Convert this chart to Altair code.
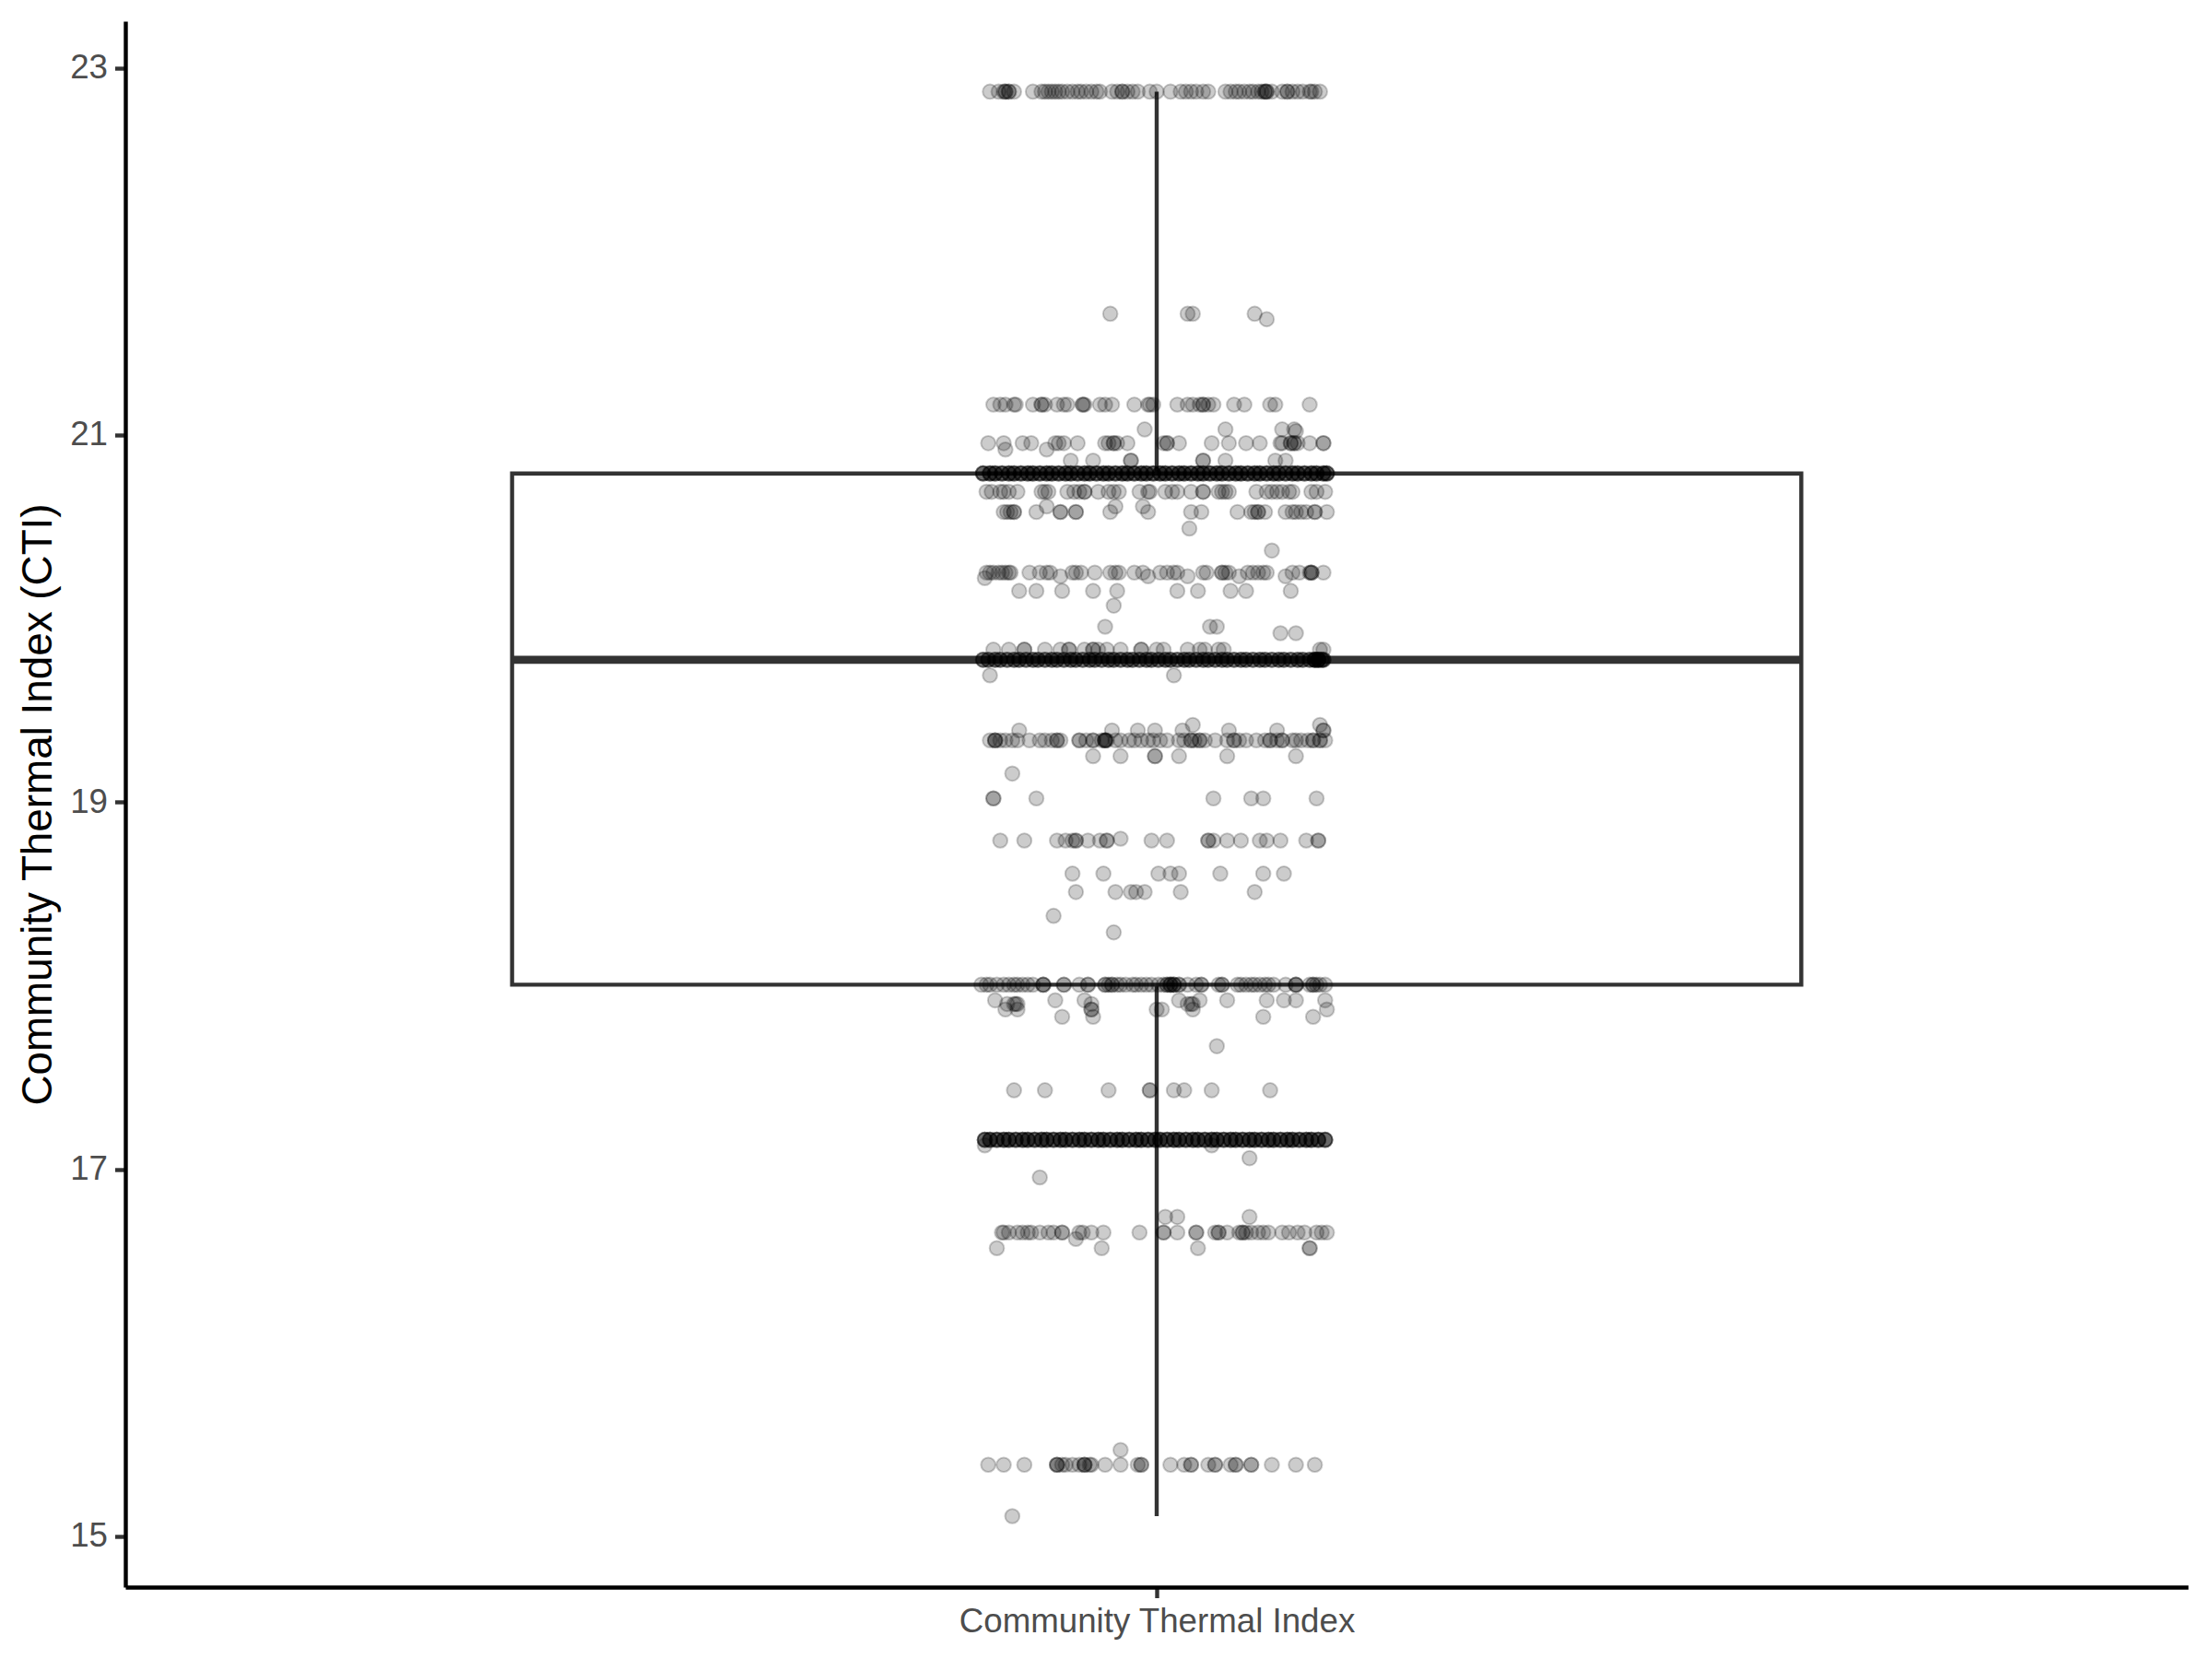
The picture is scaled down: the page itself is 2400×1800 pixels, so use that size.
import altair as alt
import pandas as pd

CATEGORY = "Community Thermal Index"
Y_TITLE = "Community Thermal Index (CTI)"
Y_TICKS = [15, 17, 19, 21, 23]

# Box-plot statistics
BOX_LOWER = 15.11
BOX_Q1 = 18.005
BOX_MEDIAN = 19.775
BOX_Q3 = 20.79
BOX_UPPER = 22.87
BOX_WIDTH = 0.75
JITTER_WIDTH = 0.1

# CTI values of the point rows, with each point's jitter (percent of jitter width)
ROW_CTI = [22.87, 21.66, 21.63, 21.165, 21.03, 21.02, 20.955, 20.92, 20.86, 20.69,
           20.61, 20.58, 20.49, 20.37, 20.25, 20.23, 20.22, 20.15, 20.07, 19.955,
           19.92, 19.83, 19.69, 19.42, 19.39, 19.336, 19.25, 19.155, 19.02, 18.80,
           18.79, 18.61, 18.51, 18.38, 18.29, 18.005, 17.92, 17.90, 17.87, 17.83,
           17.67, 17.43, 17.13, 17.06, 16.955, 16.74, 16.655, 16.62, 16.57, 15.47,
           15.39, 15.11]
ROW_JITTER = [
    [-97, -92, -89, -88, -88, -86, -86, -83, -72, -67, -65, -63, -61, -59, -57, -55, -52, -49, -46, -44,
     -41, -38, -35, -33, -26, -23, -20, -20, -17, -14, -11, -4, 0, 8, 14, 17, 20, 23, 27, 30, 40, 43, 46,
     48, 51, 54, 56, 59, 61, 63, 63, 64, 64, 67, 73, 76, 76, 79, 82, 85, 89, 90, 92, 95],
    [-27, 18, 21, 57],
    [64],
    [-95, -91, -88, -83, -82, -72, -67, -67, -65, -58, -54, -52, -43, -43, -42, -33, -30, -26, -13, -5,
     -4, -2, 12, 18, 21, 25, 27, 27, 30, 33, 45, 51, 66, 69, 89],
    [-7, 40, 73, 80],
    [81],
    [-98, -89, -78, -73, -59, -57, -54, -46, -30, -28, -25, -25, -23, -17, 4, 6, 6, 13, 32, 42, 52, 60,
     72, 73, 78, 78, 80, 80, 82, 89, 97, 97],
    [-88, -64],
    [-50, -37, -15, -15, 27, 27, 40, 69, 75],
    [-99, -96, -91, -89, -86, -81, -67, -65, -63, -52, -48, -45, -42, -42, -34, -28, -25, -22, -10, -5,
     -4, 5, 9, 12, 20, 27, 27, 36, 38, 40, 42, 58, 64, 67, 70, 73, 77, 79, 90, 93, 98],
    [-64, -24, -8],
    [-89, -87, -85, -83, -83, -70, -56, -56, -47, -47, -27, -5, 20, 26, 47, 55, 57, 59, 59, 63, 75, 79,
     81, 84, 87, 92, 92, 99],
    [19],
    [67],
    [-99, -97, -95, -92, -90, -88, -86, -85, -74, -68, -64, -62, -49, -47, -44, -36, -27, -24, -22, -13,
     -8, 2, 6, 10, 12, 27, 29, 38, 38, 40, 42, 53, 56, 59, 62, 64, 79, 83, 89, 90, 90, 90, 97],
    [-56, -5, 18, 48, 75],
    [-100],
    [-80, -70, -55, -37, -23, 12, 24, 43, 52, 78],
    [-25],
    [-30, 31, 35],
    [72, 81],
    [-95, -86, -77, -77, -65, -56, -51, -51, -42, -37, -37, -34, -29, -21, -9, -9, 0, 4, 18, 25, 28, 36,
     39, 95, 97],
    [-97, 10],
    [21, 95],
    [-80, -26, -11, -1, 15, 42, 70, 97, 97],
    [-97, -94, -94, -94, -91, -88, -84, -81, -74, -68, -65, -61, -58, -58, -56, -45, -45, -41, -37, -37,
     -32, -30, -30, -30, -30, -29, -24, -21, -16, -13, -9, -5, -2, 2, 6, 13, 16, 20, 20, 22, 25, 25, 28,
     34, 41, 45, 45, 48, 52, 58, 63, 66, 66, 70, 73, 73, 79, 81, 84, 88, 91, 91, 95, 95, 98],
    [-37, -21, -1, -1, 13, 41, 81],
    [-84],
    [-95, -95, -70, 33, 55, 62, 93],
    [-21],
    [-91, -77, -58, -53, -49, -47, -47, -40, -33, -29, -29, -3, 6, 30, 30, 33, 41, 49, 60, 64, 72, 87,
     94, 94],
    [-49, -31, 1, 8, 13, 37, 62, 74],
    [-47, -24, -15, -12, -7, 14, 57],
    [-60],
    [-25],
    [-102, -99, -97, -93, -89, -86, -83, -81, -78, -75, -72, -66, -66, -66, -54, -54, -45, -40, -40,
     -30, -30, -28, -26, -26, -23, -21, -18, -14, -12, -9, -6, -3, 1, 4, 6, 6, 8, 8, 8, 10, 10, 10, 13,
     13, 18, 23, 26, 26, 36, 38, 38, 47, 49, 52, 55, 57, 60, 63, 65, 68, 75, 81, 81, 81, 89, 91, 91, 93,
     95, 98],
    [-94, -59, -42, 13, 25, 41, 64, 74, 81, 98],
    [-87, -83, -82, -81, -38, 18, 20, 21],
    [-88, -81, -38, -38, 0, 3, 21, 99],
    [-55, -37, 62, 91],
    [35],
    [-83, -65, -28, -4, -4, 10, 16, 32, 66],
    [-100, 32],
    [54],
    [-68],
    [5, 12, 54],
    [-90, -89, -86, -81, -78, -75, -73, -68, -63, -60, -55, -55, -45, -43, -38, -31, -10, 4, 4, 12, 23,
     23, 34, 36, 36, 41, 48, 50, 50, 52, 55, 59, 62, 65, 73, 77, 82, 86, 93, 96, 99],
    [-47],
    [-93, -32, 24, 89, 89],
    [-21],
    [-98, -89, -77, -58, -58, -58, -55, -53, -49, -45, -42, -42, -42, -39, -38, -30, -21, -11, -9, -9,
     8, 16, 20, 20, 30, 34, 34, 43, 46, 46, 55, 55, 67, 81, 92],
    [-84],
]

# Solid bands: positions read along the band and how many points overlap at each
DENSE_CTI = [20.79, 19.775, 17.16]
DENSE_REPEAT = [4, 3, 4]
DENSE_JITTER = [
    [-101, -97, -94, -90, -86, -83, -79, -75, -72, -68, -64, -61, -57, -53, -50, -46, -42, -39, -35,
     -31, -28, -24, -20, -17, -13, -9, -6, -2, 2, 5, 9, 13, 16, 20, 24, 27, 31, 35, 38, 42, 46, 49, 53,
     57, 60, 64, 68, 71, 75, 79, 82, 86, 90, 93, 97, 99],
    [-101, -98, -94, -91, -87, -83, -80, -76, -72, -69, -65, -61, -58, -54, -50, -47, -43, -39, -36,
     -32, -28, -25, -21, -17, -14, -10, -6, -3, 1, 5, 8, 12, 16, 19, 23, 27, 30, 34, 38, 41, 45, 49, 52,
     56, 60, 63, 67, 71, 74, 78, 82, 85, 89, 92, 92, 94, 94, 96, 97],
    [-100, -97, -93, -89, -86, -82, -78, -75, -71, -67, -64, -60, -56, -53, -49, -45, -42, -38, -34,
     -31, -27, -23, -20, -16, -12, -9, -5, -1, 2, 6, 10, 13, 17, 21, 24, 28, 32, 35, 39, 43, 46, 50, 54,
     57, 61, 65, 68, 72, 76, 79, 83, 87, 90, 94, 98],
]

records = []
for v, js in zip(ROW_CTI, ROW_JITTER):
    for j in js:
        records.append({"x": 1 + JITTER_WIDTH * j / 100.0, "cti": v})
for v, rep, js in zip(DENSE_CTI, DENSE_REPEAT, DENSE_JITTER):
    for j in js:
        for _ in range(rep):
            records.append({"x": 1 + JITTER_WIDTH * j / 100.0, "cti": v})
points = pd.DataFrame(records)

box_df = pd.DataFrame([{"x0": 1 - BOX_WIDTH / 2, "x1": 1 + BOX_WIDTH / 2, "xc": 1.0,
                        "q1": BOX_Q1, "q3": BOX_Q3, "median": BOX_MEDIAN}])
whisk_df = pd.DataFrame([{"xc": 1.0, "lo": BOX_LOWER, "hi": BOX_Q1},
                         {"xc": 1.0, "lo": BOX_Q3, "hi": BOX_UPPER}])

FONT = "Liberation Sans"
xscale = alt.Scale(domain=[0.4, 1.6], nice=False, zero=False)
yscale = alt.Scale(domain=[14.7234, 23.2536], nice=False, zero=False)
xaxis = alt.Axis(values=[1], labelExpr=f"'{CATEGORY}'", title=None, grid=False,
                 domainColor="black", domainWidth=4.4, tickColor="#333333", tickWidth=4.4,
                 tickSize=11.5, labelPadding=8, labelFont=FONT, labelFontSize=36.7,
                 labelColor="#4d4d4d", labelLimit=0)
yaxis = alt.Axis(values=Y_TICKS, format="d", title=Y_TITLE, grid=False,
                 domainColor="black", domainWidth=4.4, tickColor="#333333", tickWidth=4.4,
                 tickSize=11.5, labelPadding=8, labelFont=FONT, labelFontSize=36.7,
                 labelColor="#4d4d4d", titleFont=FONT, titleFontSize=45.8,
                 titleFontWeight="normal", titleColor="black", titlePadding=10)

box = alt.Chart(box_df).mark_rect(fill="white", stroke="#333333", strokeWidth=4.4).encode(
    x=alt.X("x0:Q", scale=xscale, axis=xaxis),
    x2="x1:Q",
    y=alt.Y("q1:Q", scale=yscale, axis=yaxis),
    y2="q3:Q",
)
whiskers = alt.Chart(whisk_df).mark_rule(color="#333333", strokeWidth=4.4).encode(
    x=alt.X("xc:Q", scale=xscale, axis=xaxis),
    y=alt.Y("lo:Q", scale=yscale, axis=yaxis),
    y2="hi:Q",
)
median = alt.Chart(box_df).mark_rule(color="#333333", strokeWidth=8.8).encode(
    x=alt.X("x0:Q", scale=xscale, axis=xaxis),
    x2="x1:Q",
    y=alt.Y("median:Q", scale=yscale, axis=yaxis),
)
dots = alt.Chart(points).mark_circle(
    size=245, fill="black", fillOpacity=0.2, stroke="black", strokeOpacity=0.2, strokeWidth=2,
    opacity=1,
).encode(
    x=alt.X("x:Q", scale=xscale, axis=xaxis),
    y=alt.Y("cti:Q", scale=yscale, axis=yaxis),
)

chart = alt.layer(whiskers, box, median, dots).properties(
    width=2238, height=1699,
    autosize=alt.AutoSizeParams(type="none"),
    padding={"left": 136, "top": 23, "right": 26, "bottom": 78},
    background="white",
).configure_view(stroke=None)

chart.save("out.html", embed_options={"renderer": "svg", "actions": False})
